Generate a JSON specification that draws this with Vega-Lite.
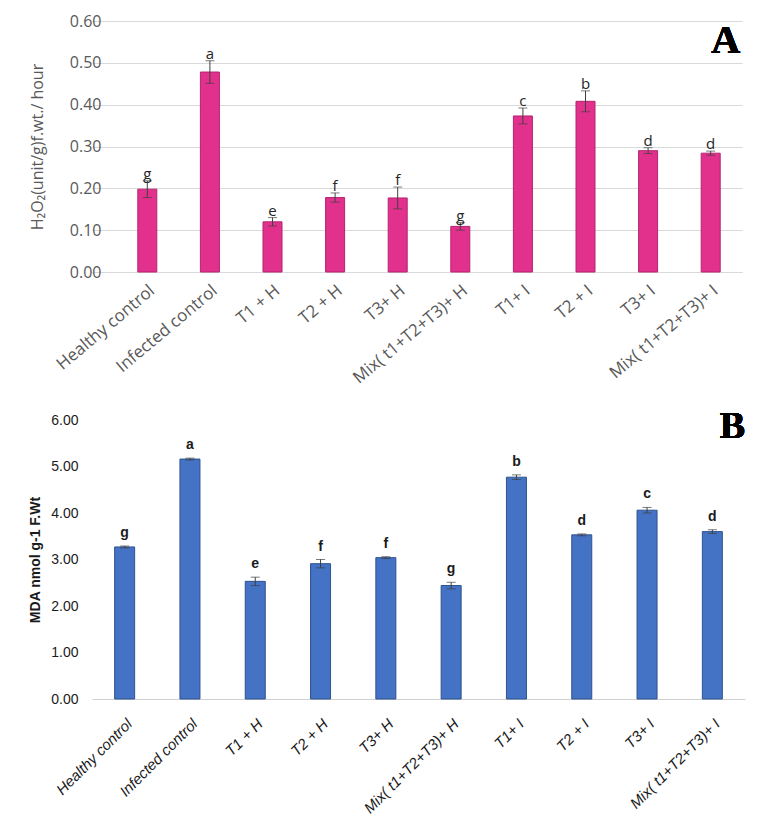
{
  "$schema": "https://vega.github.io/schema/vega-lite/v6.json",
  "background": "white",
  "padding": {"left": 28, "top": 13, "right": 0, "bottom": 0},
  "spacing": 21,
  "config": {"view": {"stroke": null}},
  "datasets": {
    "h2o2": [
      {"treatment": "Healthy control", "value": 0.198, "lo": 0.178, "hi": 0.218, "letter": "g"},
      {"treatment": "Infected control", "value": 0.478, "lo": 0.451, "hi": 0.505, "letter": "a"},
      {"treatment": "T1 +  H", "value": 0.12, "lo": 0.11, "hi": 0.13, "letter": "e"},
      {"treatment": "T2  + H", "value": 0.178, "lo": 0.167, "hi": 0.189, "letter": "f"},
      {"treatment": "T3+  H", "value": 0.177, "lo": 0.151, "hi": 0.203, "letter": "f"},
      {"treatment": "Mix( t1+T2+T3)+ H", "value": 0.109, "lo": 0.1, "hi": 0.118, "letter": "g"},
      {"treatment": "T1+  I", "value": 0.373, "lo": 0.354, "hi": 0.392, "letter": "c"},
      {"treatment": "T2 + I", "value": 0.408, "lo": 0.383, "hi": 0.433, "letter": "b"},
      {"treatment": "T3+  I", "value": 0.29, "lo": 0.283, "hi": 0.297, "letter": "d"},
      {"treatment": "Mix( t1+T2+T3)+ I", "value": 0.284, "lo": 0.279, "hi": 0.289, "letter": "d"}
    ],
    "mda": [
      {"treatment": "Healthy control", "value": 3.27, "lo": 3.25, "hi": 3.29, "letter": "g"},
      {"treatment": "Infected control", "value": 5.16, "lo": 5.14, "hi": 5.18, "letter": "a"},
      {"treatment": "T1 +  H", "value": 2.53, "lo": 2.44, "hi": 2.62, "letter": "e"},
      {"treatment": "T2  + H", "value": 2.91, "lo": 2.82, "hi": 3.0, "letter": "f"},
      {"treatment": "T3+  H", "value": 3.04, "lo": 3.02, "hi": 3.06, "letter": "f"},
      {"treatment": "Mix( t1+T2+T3)+ H", "value": 2.44, "lo": 2.37, "hi": 2.51, "letter": "g"},
      {"treatment": "T1+  I", "value": 4.77, "lo": 4.72, "hi": 4.82, "letter": "b"},
      {"treatment": "T2 + I", "value": 3.53, "lo": 3.51, "hi": 3.55, "letter": "d"},
      {"treatment": "T3+  I", "value": 4.06, "lo": 4.0, "hi": 4.12, "letter": "c"},
      {"treatment": "Mix( t1+T2+T3)+ I", "value": 3.6, "lo": 3.56, "hi": 3.64, "letter": "d"}
    ]
  },
  "vconcat": [
    {
      "width": 650,
      "height": 251,
      "data": {"name": "h2o2"},
      "encoding": {
        "x": {
          "field": "treatment", "type": "nominal", "sort": null,
          "scale": {"paddingInner": 0, "paddingOuter": 0.1917, "align": 1},
          "axis": {
            "title": null, "labelAngle": -40,
            "labelFont": "Open Sans", "labelFontSize": 17, "labelColor": "#595959",
            "ticks": false, "domainColor": "#d9d9d9", "labelPadding": 10
          }
        }
      },
      "layer": [
        {
          "mark": {"type": "bar", "size": 19, "fill": "#E2318C", "stroke": "#B5236F", "strokeWidth": 1},
          "encoding": {
            "y": {
              "field": "value", "type": "quantitative",
              "scale": {"domain": [0, 0.6]},
              "axis": {
                "values": [0, 0.1, 0.2, 0.3, 0.4, 0.5, 0.6], "format": ".2f", "offset": -24,
                "title": "H₂O₂(unit/g)f.wt./ hour", "titleFont": "Open Sans", "titleFontSize": 16,
                "titleFontWeight": "normal", "titleColor": "#595959", "titlePadding": 24,
                "labelFont": "Open Sans", "labelFontSize": 16, "labelColor": "#595959", "labelPadding": 15,
                "domain": false, "ticks": false, "gridColor": "#d9d9d9"
              }
            }
          }
        },
        {
          "mark": {"type": "errorbar", "ticks": {"size": 9, "color": "#404040"}, "rule": {"color": "#404040"}},
          "encoding": {
            "y": {"field": "lo", "type": "quantitative", "title": "H₂O₂(unit/g)f.wt./ hour"},
            "y2": {"field": "hi"}
          }
        },
        {
          "mark": {"type": "text", "font": "Open Sans", "fontSize": 15, "color": "#262626", "baseline": "alphabetic", "dy": -2},
          "encoding": {
            "y": {"field": "hi", "type": "quantitative"},
            "text": {"field": "letter"}
          }
        },
        {
          "mark": {"type": "text", "text": "A", "font": "Liberation Serif", "fontSize": 40, "fontWeight": "bold", "color": "black", "baseline": "alphabetic", "align": "center", "dx": 15},
          "encoding": {
            "x": {"datum": "Mix( t1+T2+T3)+ I"},
            "y": {"datum": 0.523}
          }
        }
      ]
    },
    {
      "width": 653,
      "height": 279,
      "data": {"name": "mda"},
      "encoding": {
        "x": {
          "field": "treatment", "type": "nominal", "sort": null,
          "scale": {"paddingInner": 0, "paddingOuter": 0},
          "axis": {
            "title": null, "labelAngle": -45, "labelFontStyle": "italic",
            "labelFont": "Liberation Sans Narrow, Liberation Sans", "labelFontSize": 15, "labelColor": "#1a1a1a",
            "ticks": false, "domainColor": "#d0d0d0", "labelPadding": 17
          }
        }
      },
      "layer": [
        {
          "mark": {"type": "bar", "size": 20, "fill": "#4472C4", "stroke": "#2F528F", "strokeWidth": 1},
          "encoding": {
            "y": {
              "field": "value", "type": "quantitative",
              "scale": {"domain": [0, 6]},
              "axis": {
                "values": [0, 1, 2, 3, 4, 5, 6], "format": ".2f", "grid": false,
                "title": "MDA nmol g-1 F.Wt", "titleFont": "Liberation Sans", "titleFontSize": 14,
                "titleFontWeight": "bold", "titleColor": "#1a1a1a", "titlePadding": 8,
                "labelFont": "Liberation Sans Narrow, Liberation Sans", "labelFontSize": 14, "labelColor": "#1a1a1a", "labelPadding": 14,
                "domain": false, "ticks": false
              }
            }
          }
        },
        {
          "mark": {"type": "errorbar", "ticks": {"size": 9, "color": "#404040"}, "rule": {"color": "#404040"}},
          "encoding": {
            "y": {"field": "lo", "type": "quantitative", "title": "MDA nmol g-1 F.Wt"},
            "y2": {"field": "hi"}
          }
        },
        {
          "mark": {"type": "text", "font": "Liberation Sans Narrow, Liberation Sans", "fontSize": 14, "fontWeight": "bold", "color": "#1a1a1a", "baseline": "alphabetic", "dy": -9},
          "encoding": {
            "y": {"field": "hi", "type": "quantitative"},
            "text": {"field": "letter"}
          }
        },
        {
          "mark": {"type": "text", "text": "B", "font": "Liberation Serif", "fontSize": 38, "fontWeight": "bold", "color": "black", "baseline": "alphabetic", "align": "center", "dx": 20},
          "encoding": {
            "x": {"datum": "Mix( t1+T2+T3)+ I"},
            "y": {"datum": 5.61}
          }
        }
      ]
    }
  ]
}
